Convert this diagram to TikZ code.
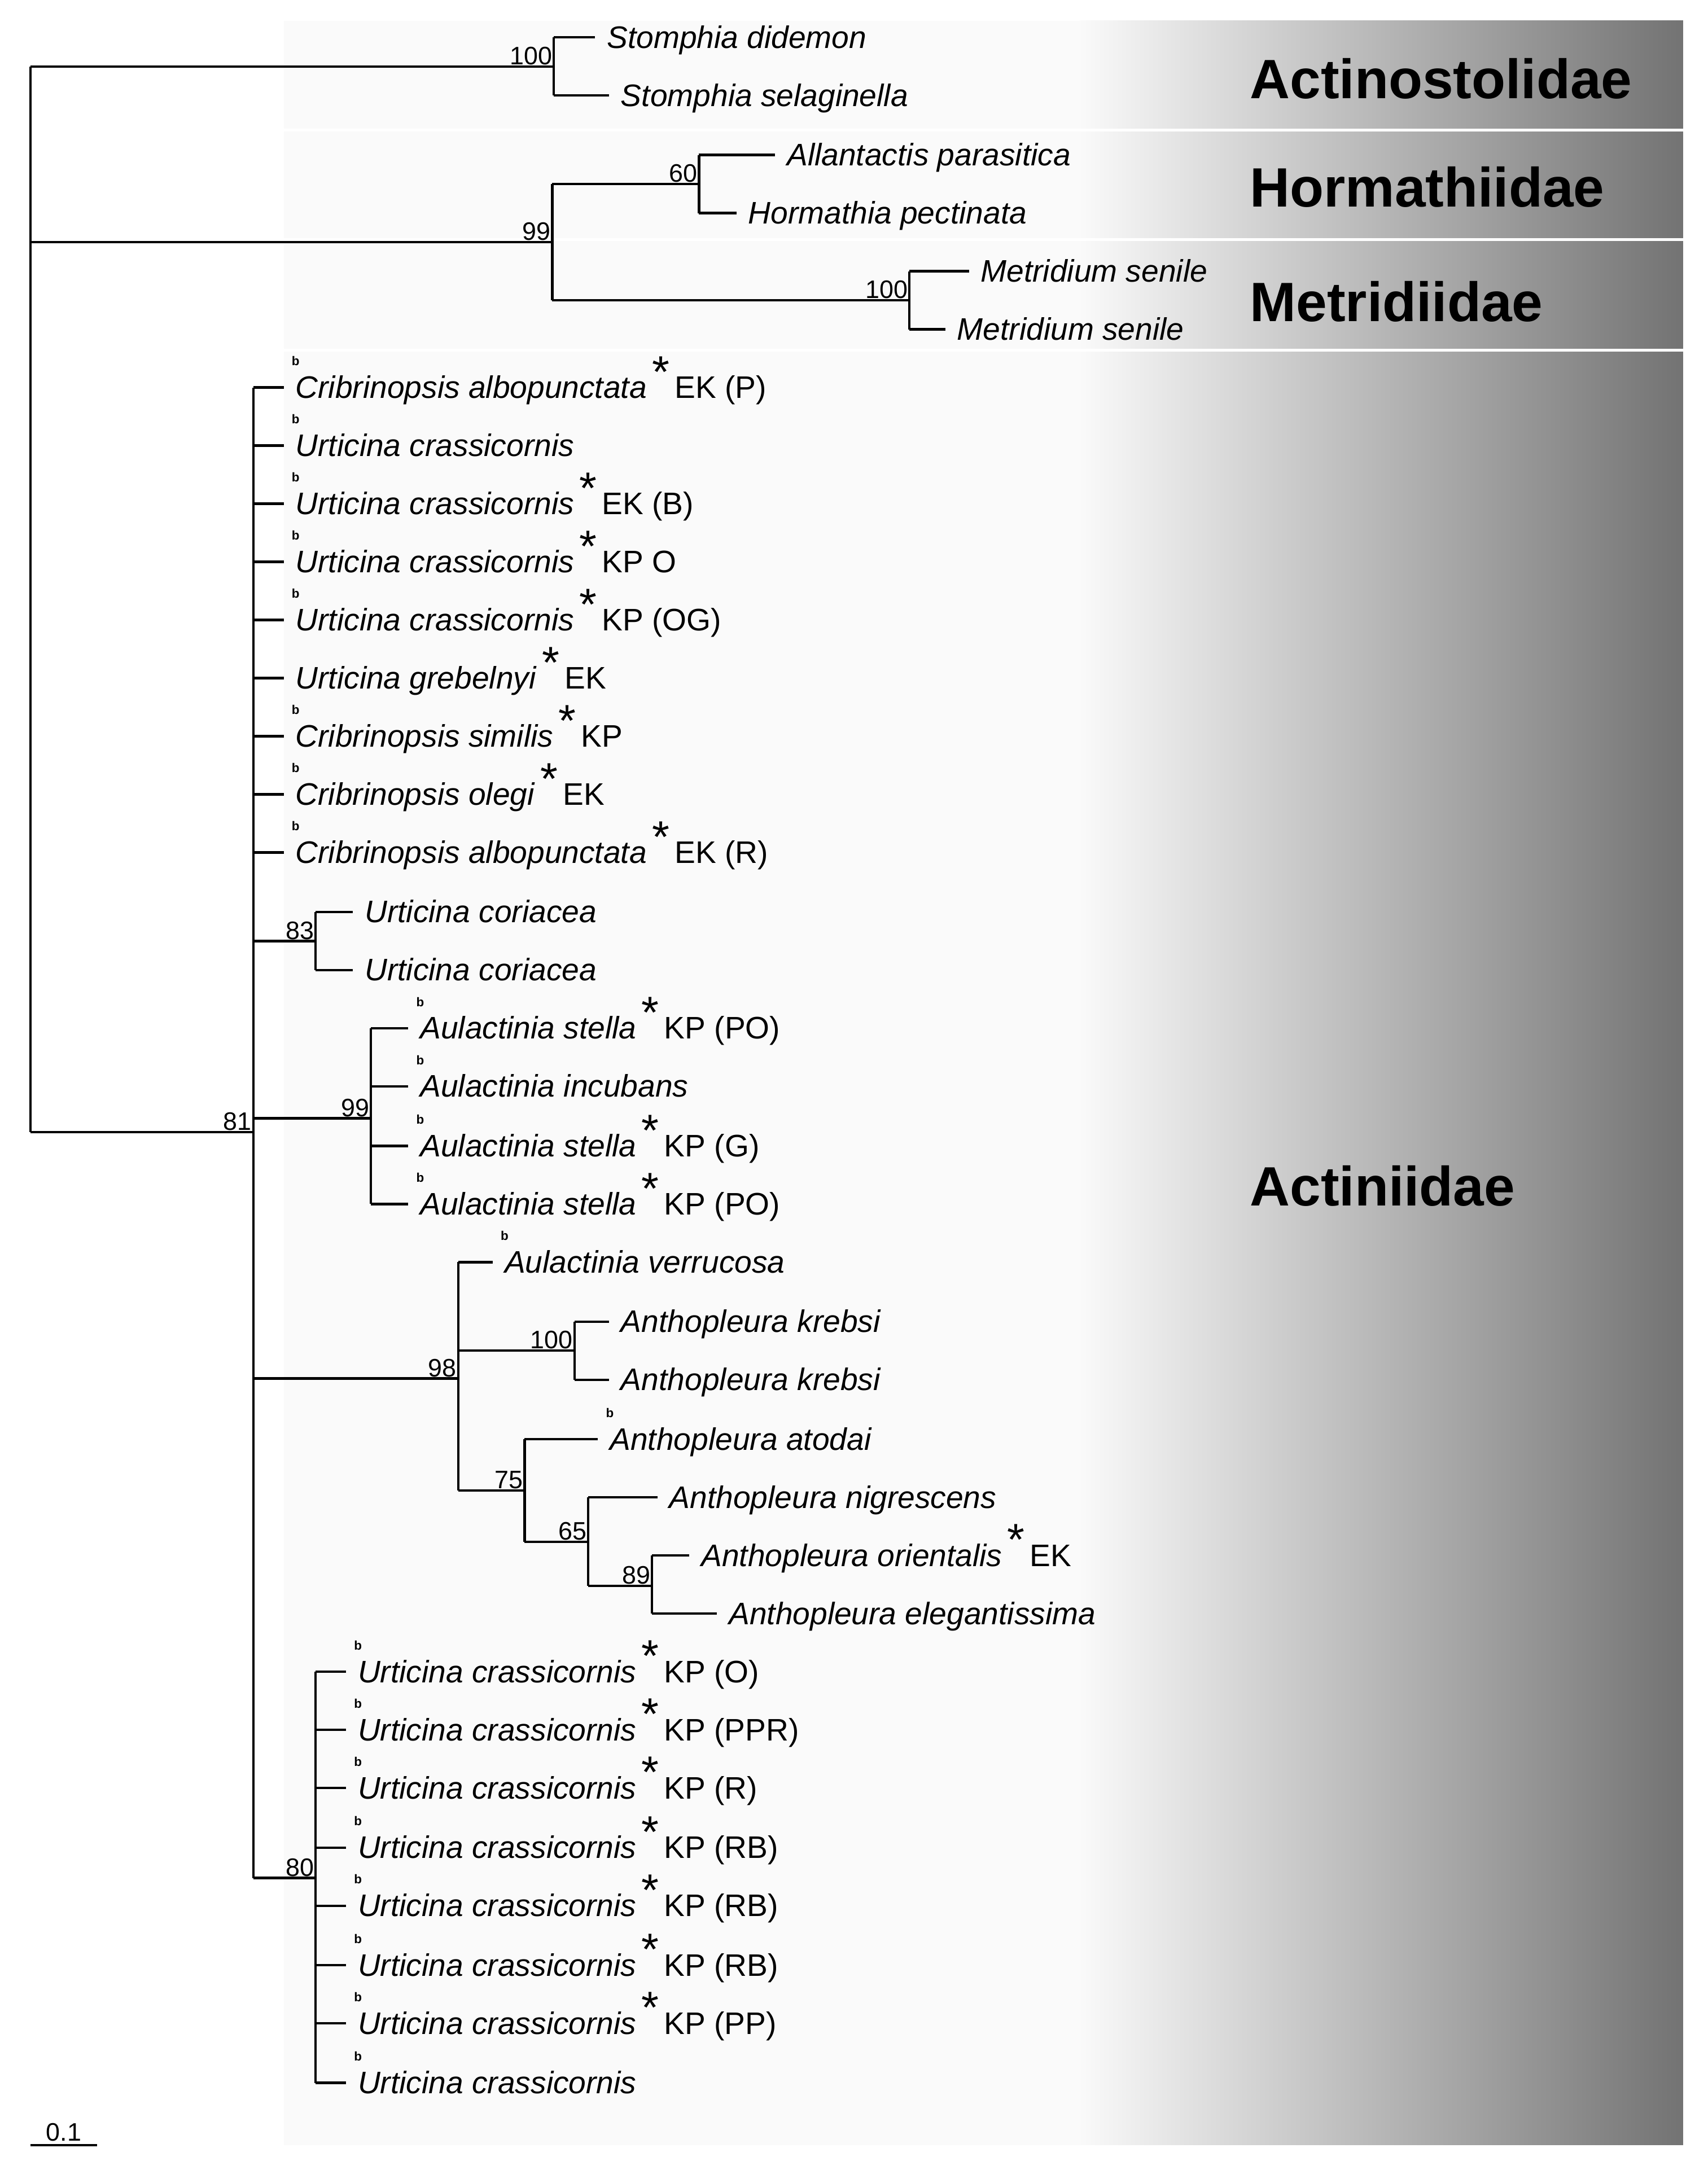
\documentclass[tikz,border=0pt]{standalone}
\usepackage{fontspec}
\setmainfont{Liberation Sans}
\usetikzlibrary{calc}
\newcommand\bsup{\llap{\raisebox{1.05em}{\fontsize{13}{13}\selectfont\bfseries b}\hspace{-4pt}}}
\newcommand\astk{\raisebox{0.35em}{\fontsize{46}{46}\selectfont *}}
\begin{document}
\begin{tikzpicture}[x=0.05cm,y=-0.05cm,
  br/.style={line width=2.5pt},
  lf/.style={anchor=base west,inner sep=0pt,font=\fontsize{32}{35}\selectfont},
  bs/.style={anchor=south east,inner sep=1.5pt,font=\fontsize{26}{28}\selectfont},
  fam/.style={anchor=west,inner sep=0pt,font=\fontsize{57}{60}\selectfont\bfseries}]
\useasboundingbox (0,0) rectangle (1234,1568);
\fill[white] (0,0) rectangle (1234,1568);
\fill[gray!4] (205,15) rectangle (780,1550);
\shade[left color=gray!4,right color=gray!90!black] (780,15) rectangle (1216,1550);
\foreach \yy in {94,173,253} \draw[white,line width=3pt] (205,\yy) -- (1216,\yy);
% families
\node[fam] (f1) at (903,57) {Actinostolidae};
\node[fam] (f2) at (903,135) {Hormathiidae};
\node[fam] (f3) at (903,218) {Metridiidae};
\node[fam] (f4) at (903,857) {Actiniidae};
% coordinates
\coordinate (root) at (22,48);
\coordinate (rootb) at (22,818);
\coordinate (nS) at (400,48);
\coordinate (n99) at (399,175);
\coordinate (nH) at (505,133);
\coordinate (nM) at (657,217);
\coordinate (n81) at (183,818);
\coordinate (n83) at (228,680);
\coordinate (nA) at (268,808);
\coordinate (n98) at (331,996);
\coordinate (n100) at (415,976);
\coordinate (n75) at (379,1077);
\coordinate (n65) at (425,1114);
\coordinate (n89) at (471,1146);
\coordinate (n80) at (228,1357);
% backbone
\draw[br] (root) -- (rootb);
\draw[br] (root) -- (nS);
\draw[br] (22,175) -- (n99);
\draw[br] (rootb) -- (n81);
% top clades
\draw[br] (nS) ++(0,-21) coordinate (s1) -- (nS |- 0,69) coordinate (s2);
\draw[br] (s1) -- ++(30,0) coordinate (s1e);
\draw[br] (s2) -- ++(40,0) coordinate (s2e);
\draw[br] (n99 |- 0,133) -- (n99 |- 0,217);
\draw[br] (n99 |- nH) -- (nH);
\draw[br] (nH |- 0,112) -- (nH |- 0,154);
\draw[br] (nH |- 0,112) -- ++(55,0) coordinate (h1e);
\draw[br] (nH |- 0,154) -- ++(27,0) coordinate (h2e);
\draw[br] (n99 |- nM) -- (nM);
\draw[br] (nM |- 0,196) -- (nM |- 0,238);
\draw[br] (nM |- 0,196) -- ++(43,0) coordinate (m1e);
\draw[br] (nM |- 0,238) -- ++(26,0) coordinate (m2e);
\node[lf] (t1) at ([xshift=12pt,yshift=-11]s1e) {\itshape Stomphia didemon};
\node[lf] (t2) at ([xshift=12pt,yshift=-11]s2e) {\itshape Stomphia selaginella};
\node[lf] (t3) at ([xshift=12pt,yshift=-11]h1e) {\itshape Allantactis parasitica};
\node[lf] (t4) at ([xshift=12pt,yshift=-11]h2e) {\itshape Hormathia pectinata};
\node[lf] (t5) at ([xshift=12pt,yshift=-11]m1e) {\itshape Metridium senile};
\node[lf] (t6) at ([xshift=12pt,yshift=-11]m2e) {\itshape Metridium senile};
\node[bs] (b1) at (nS) {100};
\node[bs] (b2) at (n99) {99};
\node[bs] (b3) at (nH) {60};
\node[bs] (b4) at (nM) {100};
% Actiniidae
\draw[br] (n81 |- 0,280) -- (n81 |- 0,1357);
\node[bs] (b5) at (n81) {81};
\foreach \yy/\txt [count=\i] in {
 280/{\bsup\textit{Cribrinopsis albopunctata}\,\astk\,EK (P)},
 322/{\bsup\textit{Urticina crassicornis}},
 364/{\bsup\textit{Urticina crassicornis}\,\astk\,EK (B)},
 406/{\bsup\textit{Urticina crassicornis}\,\astk\,KP O},
 448/{\bsup\textit{Urticina crassicornis}\,\astk\,KP (OG)},
 490/{\textit{Urticina grebelnyi}\,\astk\,EK},
 532/{\bsup\textit{Cribrinopsis similis}\,\astk\,KP},
 574/{\bsup\textit{Cribrinopsis olegi}\,\astk\,EK},
 616/{\bsup\textit{Cribrinopsis albopunctata}\,\astk\,EK (R)}}{
  \draw[br] (183,\yy) coordinate (a\i) -- (205,\yy) coordinate (ae\i);
  \node[lf] (la\i) at ([xshift=12pt,yshift=-11]ae\i) {\txt};
}
\draw[br] (n81 |- n83) -- (n83);
\draw[br] (n83 |- 0,659) -- (n83 |- 0,701);
\node[bs] (b6) at (n83) {83};
\foreach \yy [count=\i] in {659,701}{
  \draw[br] (228,\yy) -- (255,\yy) coordinate (ce\i);
  \node[lf] (lc\i) at ([xshift=12pt,yshift=-11]ce\i) {\itshape Urticina coriacea};
}
\draw[br] (n81 |- nA) -- (nA);
\draw[br] (nA |- 0,743) -- (nA |- 0,870);
\node[bs] (b7) at (nA) {99};
\foreach \yy/\txt [count=\i] in {
 743/{\bsup\textit{Aulactinia stella}\,\astk\,KP (PO)},
 785/{\bsup\textit{Aulactinia incubans}},
 828/{\bsup\textit{Aulactinia stella}\,\astk\,KP (G)},
 870/{\bsup\textit{Aulactinia stella}\,\astk\,KP (PO)}}{
  \draw[br] (268,\yy) -- (295,\yy) coordinate (de\i);
  \node[lf] (ld\i) at ([xshift=12pt,yshift=-11]de\i) {\txt};
}
% 98 clade
\draw[br] (n81 |- n98) -- (n98);
\node[bs] (b8) at (n98) {98};
\draw[br] (n98 |- 0,912) -- (n98 |- n75);
\draw[br] (n98 |- 0,912) -- (356,912) coordinate (ve);
\node[lf] (lv) at ([xshift=12pt,yshift=-11]ve) {\bsup\textit{Aulactinia verrucosa}};
\draw[br] (n98 |- n100) -- (n100);
\draw[br] (n100 |- 0,955) -- (n100 |- 0,997);
\node[bs] (b9) at (n100) {100};
\foreach \yy [count=\i] in {955,997}{
  \draw[br] (415,\yy) -- (440,\yy) coordinate (ke\i);
  \node[lf] (lk\i) at ([xshift=12pt,yshift=-11]ke\i) {\itshape Anthopleura krebsi};
}
\draw[br] (n98 |- n75) -- (n75);
\node[bs] (b10) at (n75) {75};
\draw[br] (n75 |- 0,1040) -- (n75 |- n65);
\draw[br] (n75 |- 0,1040) -- (432,1040) coordinate (ate);
\node[lf] (lat) at ([xshift=12pt,yshift=-11]ate) {\bsup\textit{Anthopleura atodai}};
\draw[br] (n75 |- n65) -- (n65);
\node[bs] (b11) at (n65) {65};
\draw[br] (n65 |- 0,1082) -- (n65 |- n89);
\draw[br] (n65 |- 0,1082) -- (475,1082) coordinate (nie);
\node[lf] (lni) at ([xshift=12pt,yshift=-11]nie) {\itshape Anthopleura nigrescens};
\draw[br] (n65 |- n89) -- (n89);
\node[bs] (b12) at (n89) {89};
\draw[br] (n89 |- 0,1124) -- (n89 |- 0,1166);
\draw[br] (n89 |- 0,1124) -- (498,1124) coordinate (ore);
\draw[br] (n89 |- 0,1166) -- (518,1166) coordinate (ele);
\node[lf] (lor) at ([xshift=12pt,yshift=-11]ore) {\textit{Anthopleura orientalis}\,\astk\,EK};
\node[lf] (lel) at ([xshift=12pt,yshift=-11]ele) {\itshape Anthopleura elegantissima};
% 80 clade
\draw[br] (n81 |- n80) -- (n80);
\node[bs] (b13) at (n80) {80};
\draw[br] (n80 |- 0,1208) -- (n80 |- 0,1505);
\foreach \yy/\txt [count=\i] in {
 1208/{\bsup\textit{Urticina crassicornis}\,\astk\,KP (O)},
 1250/{\bsup\textit{Urticina crassicornis}\,\astk\,KP (PPR)},
 1292/{\bsup\textit{Urticina crassicornis}\,\astk\,KP (R)},
 1335/{\bsup\textit{Urticina crassicornis}\,\astk\,KP (RB)},
 1377/{\bsup\textit{Urticina crassicornis}\,\astk\,KP (RB)},
 1420/{\bsup\textit{Urticina crassicornis}\,\astk\,KP (RB)},
 1462/{\bsup\textit{Urticina crassicornis}\,\astk\,KP (PP)},
 1505/{\bsup\textit{Urticina crassicornis}}}{
  \draw[br] (228,\yy) -- (250,\yy) coordinate (ue\i);
  \node[lf] (lu\i) at ([xshift=12pt,yshift=-11]ue\i) {\txt};
}
% scale bar
\coordinate (sb1) at (22,1550);
\coordinate (sb2) at (70,1550);
\draw[br] (sb1) -- (sb2);
\node[bs,anchor=south,inner sep=4pt] (sbl) at ($(sb1)!0.5!(sb2)$) {0.1};
\end{tikzpicture}
\end{document}
